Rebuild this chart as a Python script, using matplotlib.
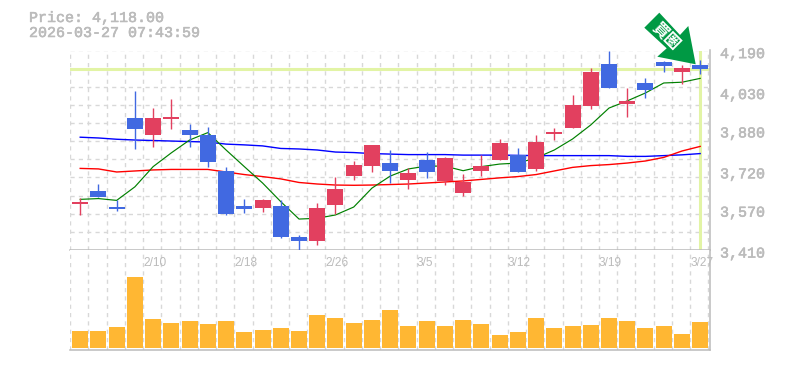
import numpy as np
import matplotlib
matplotlib.use("Agg")
import matplotlib.pyplot as plt
import matplotlib.patheffects as pe
from matplotlib.patches import Polygon

# 日足データ
opens = [3591, 3641, 3578, 3926, 3860, 3922, 3879, 3860, 3719, 3582, 3574, 3582,
         3461, 3445, 3586, 3699, 3738, 3750, 3684, 3762, 3680, 3633, 3719, 3762,
         3781, 3727, 3864, 3887, 3973, 4137, 3981, 4063, 4145, 4106, 4133]
closes = [3598, 3617, 3570, 3884, 3926, 3929, 3860, 3754, 3551, 3570, 3605, 3461,
          3445, 3574, 3648, 3742, 3821, 3719, 3711, 3715, 3770, 3676, 3738, 3828,
          3715, 3832, 3871, 3977, 4106, 4043, 3993, 4036, 4129, 4122, 4118]
highs = [3613, 3668, 3605, 4032, 3965, 4000, 3903, 3891, 3735, 3609, 3609, 3605,
         3469, 3594, 3695, 3758, 3821, 3801, 3731, 3793, 3774, 3707, 3781, 3844,
         3809, 3860, 3887, 4016, 4122, 4188, 4043, 4083, 4149, 4133, 4153]
lows = [3548, 3617, 3562, 3805, 3813, 3884, 3813, 3735, 3547, 3555, 3559, 3457,
        3410, 3430, 3551, 3684, 3715, 3672, 3648, 3691, 3664, 3621, 3699, 3762,
        3715, 3719, 3840, 3887, 3961, 4043, 3930, 4004, 4106, 4059, 4098]

# 移動平均
ma_short = [3608, 3611, 3604, 3657, 3736, 3790, 3840, 3869, 3801, 3736, 3672, 3599,
            3531, 3534, 3547, 3578, 3652, 3699, 3727, 3738, 3738, 3720, 3736, 3746,
            3750, 3770, 3801, 3844, 3899, 3965, 3993, 4024, 4063, 4066, 4081]
ma_mid = [3729, 3727, 3715, 3719, 3723, 3725, 3725, 3725, 3715, 3705, 3697, 3688,
          3674, 3668, 3664, 3663, 3664, 3666, 3668, 3672, 3676, 3680, 3686, 3692,
          3697, 3705, 3719, 3733, 3740, 3744, 3750, 3758, 3772, 3797, 3815]
ma_long = [3851, 3848, 3843, 3840, 3838, 3836, 3834, 3832, 3824, 3821, 3817, 3807,
           3805, 3801, 3793, 3791, 3787, 3785, 3783, 3783, 3783, 3781, 3781, 3781,
           3780, 3779, 3779, 3779, 3779, 3779, 3776, 3776, 3779, 3782, 3787]

volumes = [17, 17, 21, 71, 29, 25, 27, 24, 27, 16, 18, 20, 17, 33, 30, 25, 28, 38,
           22, 27, 22, 28, 24, 13, 16, 30, 20, 22, 23, 30, 27, 20, 22, 14, 26]

price_now = 4118
price_labels = [4190, 4030, 3880, 3720, 3570, 3410]
date_pos = [4, 9, 14, 19, 24, 29, 34]
date_labels = ["2/10", "2/18", "2/26", "3/5", "3/12", "3/19", "3/27"]

W, H = 785, 370
BLUE = "#4169E1"
RED = "#E2405F"
GRAY = "#BBBBBB"
GRID = "#D8D8D8"
LIME = "#E2F4A5"
GREEN = "#009944"
MONO = "Liberation Mono"
thick = [pe.withStroke(linewidth=0.4, foreground=GRAY)]


def px_rect(left, top, right, bottom):
    return [left / W, 1 - bottom / H, (right - left) / W, (bottom - top) / H]


fig = plt.figure(figsize=(W / 100, H / 100), dpi=100, facecolor="white")
ax = fig.add_axes(px_rect(70, 50.5, 710, 250))
ax_vol = fig.add_axes(px_rect(70, 250, 710, 350))

step = 18.235
x = np.arange(len(closes))
xlim = (-(80.2 - 70) / step, (710 - 80.2) / step)
grid_x = np.arange(len(closes) + 1) - 0.55

# 価格チャート
ax.set_xlim(xlim)
ax.set_ylim(3410, 4190)
for gx in grid_x:
    ax.axvline(gx, color=GRID, lw=1.0, ls=(0, (3, 3)), zorder=1)
for gy in np.linspace(3410, 4190, 12)[1:]:
    ax.axhline(gy, color=GRID, lw=1.0, ls=(0, (3, 3)), zorder=1)

ax.axhline(price_now, color=LIME, lw=2.2, zorder=2)
ax.axvline(x[-1], color=LIME, lw=2.2, zorder=2)

ax.plot(x, ma_long, color="#0000FF", lw=1.0, zorder=3)
ax.plot(x, ma_mid, color="#FF0000", lw=1.0, zorder=3)
ax.plot(x, ma_short, color="#008000", lw=0.85, zorder=3)

for i in x:
    c = RED if closes[i] >= opens[i] else BLUE
    ax.vlines(i, lows[i], highs[i], color=c, lw=1.0, zorder=4)
    ax.bar(i, abs(closes[i] - opens[i]), bottom=min(opens[i], closes[i]),
           width=16 / step, color=c, lw=0, zorder=5)

ax.set_xticks([])
ax.set_yticks([])
for s in ["top", "left"]:
    ax.spines[s].set_visible(False)
for s in ["right", "bottom"]:
    ax.spines[s].set_color(GRAY)
    ax.spines[s].set_linewidth(1.1)

for p in price_labels:
    ax.annotate(f"{p:,}", xy=(1, p), xycoords=("axes fraction", "data"),
                xytext=(7.2, -2.6), textcoords="offset points", ha="left", va="center",
                color=GRAY, fontsize=10.8, family=MONO, annotation_clip=False,
                path_effects=thick)

# 出来高
ax_vol.set_xlim(xlim)
ax_vol.set_ylim(-2, 98)
for gx in grid_x:
    ax_vol.axvline(gx, color=GRID, lw=1.0, ls=(0, (3, 3)), zorder=1)
ax_vol.bar(x, volumes, width=16 / step, color="#FFB733", lw=0, zorder=3)
ax_vol.set_xticks([])
ax_vol.set_yticks([])
ax_vol.spines["left"].set_visible(False)
ax_vol.spines["top"].set_visible(False)
for s in ["right", "bottom"]:
    ax_vol.spines[s].set_color(GRAY)
    ax_vol.spines[s].set_linewidth(1.1)

for pos, lab in zip(date_pos, date_labels):
    ax_vol.text(pos - 0.55, 1 - 12.5 / 100, lab, transform=ax_vol.get_xaxis_transform(),
                ha="left", va="center", color=GRAY, fontsize=8.6, family="Liberation Sans",
                zorder=6, clip_on=False)

# 見出し
for txt, ypx in [("Price: 4,118.00", 18), ("2026-03-27 07:43:59", 33)]:
    fig.text(29 / W, 1 - ypx / H, txt, ha="left", va="center", color=GRAY,
             fontsize=10.8, family=MONO, path_effects=thick)

# 矢印
arrow_px = [(659.3, 12.7), (680, 35), (688.3, 26), (695.7, 64.3),
            (657.3, 56.7), (666.7, 48.3), (644.3, 27.7)]
arrow = Polygon([(a / W, 1 - b / H) for a, b in arrow_px], closed=True, facecolor=GREEN,
                edgecolor="none", transform=fig.transFigure, zorder=10)
fig.add_artist(arrow)
fig.text(666.5 / W, 1 - 35.5 / H, "買圏", rotation=-45, rotation_mode="anchor",
         ha="center", va="center", color="white", fontsize=11.5, fontweight="bold",
         family=["Noto Sans CJK JP", "DejaVu Sans"], zorder=11)

fig.savefig("out.png", dpi=100, facecolor="white")
